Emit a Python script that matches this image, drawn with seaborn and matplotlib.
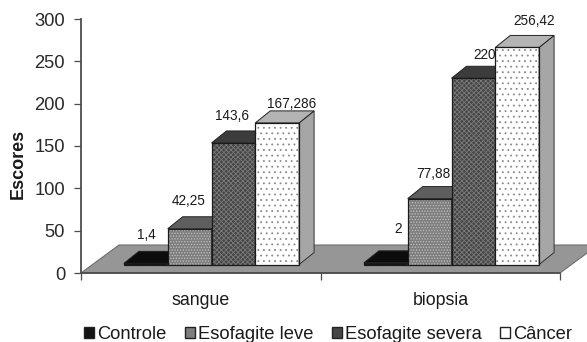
import matplotlib
matplotlib.use('Agg')
import matplotlib.pyplot as plt
import pandas as pd
import seaborn as sns
from matplotlib.patches import Polygon, Rectangle

amostras = ['sangue', 'biopsia']
grupos = ['Controle', 'Esofagite leve', 'Esofagite severa', 'Câncer']
sangue = [1.4, 42.25, 143.6, 167.286]
biopsia = [2, 77.88, 220, 256.42]
rotulos = ['1,4', '42,25', '143,6', '167,286', '2', '77,88', '220', '256,42']

df = pd.DataFrame({
    'amostra': [a for a in amostras for _ in grupos],
    'grupo': grupos * 2,
    'escore': sangue + biopsia,
})

# estilo de cada serie: frente, trama, topo
FRENTE = ['#141414', '#7e7e7e', '#454545', '#ffffff']
TRAMA = ['#4a4a4a', '#c0c0c0', '#7a7a7a', '#8a8a8a']
HATCH = ['.....', '......', 'xxxxxxx', '...']
TOPO = ['#0c0c0c', '#5e5e5e', '#3c3c3c', '#b4b4b4']
LATERAL = '#a6a6a6'
PISO = '#969696'
LINHA = '#4d4d4d'

sns.set_style('white')
plt.rcParams['font.family'] = ['Liberation Sans', 'DejaVu Sans']
plt.rcParams['hatch.linewidth'] = 0.6

fig = plt.figure(figsize=(5.87, 3.42), dpi=100)
ax = fig.add_axes([81 / 587, 1 - 273 / 342, (560 - 81) / 587, (273 - 19) / 342])

BASE = 10          # o piso desloca as barras para cima
sns.barplot(data=df, x='amostra', y='escore', hue='grupo', order=amostras, hue_order=grupos,
            palette=FRENTE, width=0.73, gap=0, saturation=1, ax=ax, errorbar=None)

x_esq, x_dir = -130.5 / 240, 348.5 / 240
ax.set_xlim(x_esq, x_dir)
ax.set_ylim(0, 300)
px_x = (x_dir - x_esq) / 479
px_y = 300 / 254
dx, dy = 15 * px_x, 12 * px_y

# piso
fx, fy = 38 * px_x, 28 * px_y
ax.add_patch(Polygon([(x_esq, 0), (x_dir, 0), (x_dir + fx, fy), (x_esq + fx, fy)], closed=True,
                     facecolor=PISO, edgecolor='#6e6e6e', linewidth=0.8, zorder=1, clip_on=False))

# faces 3D a partir das barras desenhadas pelo seaborn
for i, cont in enumerate(ax.containers):
    for j, bar in enumerate(cont):
        bar.set_y(BASE)
        x, y, w, h = bar.get_x(), bar.get_y(), bar.get_width(), bar.get_height()
        z = 3 + 2 * i
        bar.set_zorder(z)
        bar.set_edgecolor(TRAMA[i])
        bar.set_hatch(HATCH[i])
        bar.set_linewidth(0)
        ax.add_patch(Polygon([(x + w, y), (x + w + dx, y + dy), (x + w + dx, y + h + dy), (x + w, y + h)],
                             closed=True, facecolor=LATERAL, edgecolor='#333333', linewidth=0.7, zorder=z))
        ax.add_patch(Polygon([(x, y + h), (x + dx, y + h + dy), (x + w + dx, y + h + dy), (x + w, y + h)],
                             closed=True, facecolor=TOPO[i], edgecolor='#222222', linewidth=0.7, zorder=z))
        ax.add_patch(Rectangle((x, y), w, h, fill=False, edgecolor='#1a1a1a', linewidth=0.9, zorder=z + 0.5))

# rotulos com o deslocamento manual do original (pixels)
DESLOC_X = [1, -1, -1, 14, 12, 4, 11, 17]
DESLOC_Y = [28, 28, 27, 19, 34, 25, 23, 26]
for i, cont in enumerate(ax.containers):
    for j, bar in enumerate(cont):
        n = j * 4 + i
        ax.annotate(rotulos[n], (bar.get_x() + bar.get_width() / 2, bar.get_y() + bar.get_height()),
                    xytext=(DESLOC_X[n] * 0.72, DESLOC_Y[n] * 0.72), textcoords='offset points',
                    ha='center', va='center', fontsize=9.8, color='#1a1a1a', zorder=3 + 2 * i + 0.7)

# eixos
ax.set_yticks(range(0, 301, 50))
ax.set_xticks([x_esq, (x_esq + x_dir) / 2, x_dir])
ax.set_xticklabels([])
ax.set_xticks([0 - 11 * px_x, 1 - 11 * px_x], labels=amostras, minor=True)
ax.tick_params(axis='x', which='minor', length=0, pad=14, labelsize=12.8, labelcolor='#1a1a1a')
ax.tick_params(axis='x', which='major', length=5, width=0.9, color=LINHA, bottom=True)
ax.tick_params(axis='y', length=5, width=0.9, color=LINHA, labelsize=13.2, labelcolor='#2a2a2a', pad=6.5, left=True)
ax.set_xlabel('')
ax.set_ylabel('Escores', fontsize=13, fontweight='bold', color='#1a1a1a')
ax.yaxis.set_label_coords(-54 / 479, 0.43)
for lado in ['top', 'right']:
    ax.spines[lado].set_visible(False)
for lado in ['left', 'bottom']:
    ax.spines[lado].set_color(LINHA)
    ax.spines[lado].set_linewidth(1.3)
    ax.spines[lado].set_zorder(2)

# legenda
handles, labels = ax.get_legend_handles_labels()
for h_ in handles:
    h_.set_edgecolor('#222222')
ax.legend(handles, labels, ncol=4, frameon=False, loc='lower left',
          bbox_to_anchor=(84 / 587, -1 / 342), bbox_transform=fig.transFigure,
          fontsize=13.2, handlelength=0.55, handleheight=0.55, handletextpad=0.15,
          columnspacing=1.02, labelcolor='#1a1a1a', borderpad=0, borderaxespad=0)

fig.savefig('out.png', dpi=100)
